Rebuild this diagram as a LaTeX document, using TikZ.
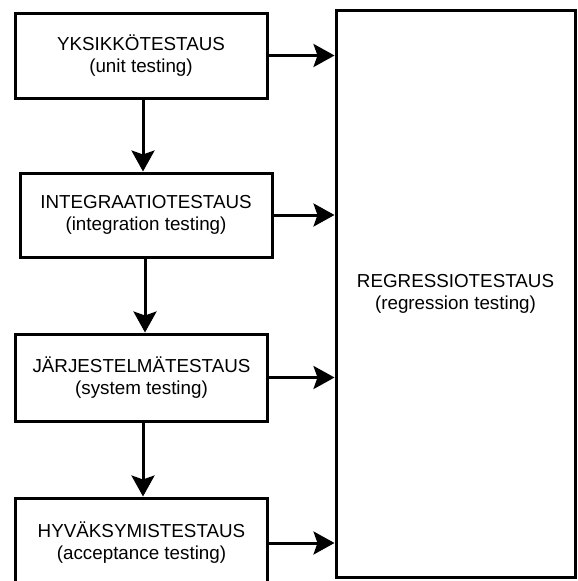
\documentclass[tikz,border=0pt]{standalone}
\usepackage{fontspec}
\setmainfont{Liberation Sans}
\usetikzlibrary{arrows.meta}
\begin{document}
\begin{tikzpicture}[x=1pt,y=-1pt,
  stagebox/.style={draw=black, line width=3pt, fill=white, rectangle,
    minimum width=252pt, inner sep=0pt, align=center,
    font=\fontsize{18.8}{22}\selectfont},
  flow/.style={draw=black, line width=3pt,
    -{Stealth[length=21pt, width=23pt, inset=4pt]}}]
  \useasboundingbox (0,0) rectangle (578,581);
  \fill[white] (0,0) rectangle (578,581);

  % test stages, top to bottom
  \node[stagebox, minimum height=85pt] (unit) at (141,55.5)
    {YKSIKKÖTESTAUS\\(unit testing)};
  \node[stagebox, minimum height=84pt] (integ) at (146,215)
    {INTEGRAATIOTESTAUS\\(integration testing)};
  \node[stagebox, minimum height=87pt] (system) at (141.5,377.5)
    {JÄRJESTELMÄTESTAUS\\(system testing)};
  \node[stagebox, minimum height=90pt] (accept) at (141.5,543)
    {HYVÄKSYMISTESTAUS\\(acceptance testing)};

  % regression testing spans all stages
  \node[stagebox, minimum width=239pt, minimum height=567pt] (regr) at (455.5,293.5)
    {REGRESSIOTESTAUS\\(regression testing)};

  % downward flow between stages
  \draw[flow] (unit.south -| 143,0) -- (integ.north -| 143,0);
  \draw[flow] (integ.south -| 145,0) -- (system.north -| 145,0);
  \draw[flow] (system.south -| 143,0) -- (accept.north -| 143,0);

  % every stage feeds regression testing
  \draw[flow] (unit.east) -- (unit.east -| regr.west);
  \draw[flow] (integ.east) -- (integ.east -| regr.west);
  \draw[flow] (system.east) -- (system.east -| regr.west);
  \draw[flow] (accept.east) -- (accept.east -| regr.west);
\end{tikzpicture}
\end{document}
